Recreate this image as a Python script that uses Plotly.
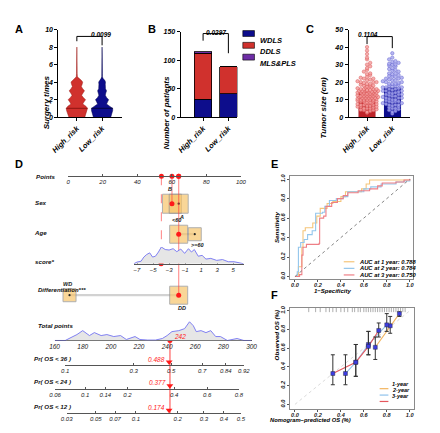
import math
import plotly.graph_objects as go

W, H = 440, 433
FONT = "Liberation Sans, Arial, Helvetica, sans-serif"

# ======================= DATA =======================
groups = ["High_risk", "Low_risk"]

surg_y = [0, 0.25, 0.5, 0.75, 1.0, 1.25, 1.5, 1.75, 2.0, 2.25, 2.5, 2.75, 3.0, 3.25,
          3.5, 3.75, 4.0, 4.2, 4.4, 4.6, 5.0, 6.0, 7.0, 8.0]
surg_dens_high = [0.75, 0.82, 0.9, 0.97, 1.0, 0.85, 0.55, 0.68, 0.82, 0.6, 0.45, 0.58,
                  0.72, 0.55, 0.42, 0.5, 0.55, 0.42, 0.2, 0.05, 0.03, 0.03, 0.03, 0.0]
surg_dens_low = [0.82, 0.9, 0.96, 1.0, 1.0, 0.72, 0.42, 0.52, 0.62, 0.42, 0.3, 0.35,
                 0.42, 0.32, 0.28, 0.3, 0.32, 0.25, 0.1, 0.03, 0.03, 0.03, 0.0, 0.0]
surg_median = [1.0, 1.0]
p_surg = "0.0099"

subtypes = ["WDLS", "DDLS", "MLS&PLS"]
wdls_counts = [31, 41]
ddls_counts = [81, 47]
mlspls_counts = [3, 0]
p_subtype = "0.0297"

tumor_high = [3.5, 4, 4.2, 4.5, 5, 5, 5.5, 6, 6, 6.5, 7, 7, 7.5, 8, 8,
              8.5, 9, 9, 9.5, 10, 10, 10, 10.5, 11, 11, 11, 11.5, 12, 12, 12,
              12.5, 13, 13, 13, 13.5, 14, 14, 14, 14.5, 15, 15, 15, 15, 15.5, 16, 16, 16,
              16.5, 17, 17, 17.5, 18, 18, 18, 18.5, 19, 19, 19.5, 20, 20, 20,
              20.5, 21, 21.5, 22, 22, 22.5, 23, 24, 24.5, 25,
              26, 27, 28, 29, 30, 31, 33, 34, 36, 38, 40,
              2.5, 3, 4, 5, 6, 6.5, 7, 7.5, 8, 8.5, 9, 9, 9.5, 10, 10, 10.5, 11, 11,
              11.5, 12, 12, 12.5, 13, 13, 13.5, 14, 14, 14.5, 15, 15, 15.5, 16, 17]
tumor_low = [2, 3, 3.5, 4, 4.5, 5, 5.5, 6,
             6.5, 7, 7, 7.5, 8, 8, 8.5, 9, 9, 9.5, 10, 10,
             10.5, 11, 11, 11.5, 12, 12, 12.5, 13, 13, 13.5, 14, 14,
             14.5, 15, 15, 15.5, 16, 16, 16.5, 17, 17, 17.5, 18, 18,
             18.5, 19, 19, 19.5, 20, 20, 20.5, 21, 21, 21.5, 22, 22,
             22.5, 23, 23, 23.5, 24, 24.5, 25, 25, 26,
             26.5, 27, 27.5, 28, 29, 29.5, 30, 30,
             30.5, 31, 31.5, 32, 33, 34, 36.5,
             5, 7, 9, 11, 13, 15, 17, 19]
p_tumor = "0.1104"

row_names = ["Points", "Sex", "Age", "score*", "Differentiation***", "Total points",
             "Pr( OS < 36 )", "Pr( OS < 24 )", "Pr( OS < 12 )"]
points_ticks = [0, 20, 40, 60, 80, 100]
sex_levels = ["B", "A"]
sex_points = [60.1, 64.0]
age_levels = ["<60", ">=60"]
age_points = [64.0, 73.3]
diff_levels = ["WD", "DD"]
diff_points = [0.8, 64.0]
score_ticks = [-7, -5, -3, -1, 1, 3, 5]
score_grid = [-7.4, -7.0, -6.5, -6.15, -5.8, -5.42, -5.06, -4.7, -4.33, -3.97, -3.48, -3.0,
              -2.5, -2.03, -1.55, -1.06, -0.58, -0.21, 0.15, 0.64, 1.12, 1.6, 2.21, 2.94,
              3.67, 4.39, 5.12, 5.85, 6.3]
score_density = [0, 0.1, 0.15, 0.4, 0.55, 0.65, 0.4, 0.45, 0.7, 1.0, 0.85, 0.82,
                 0.9, 0.72, 0.88, 0.62, 0.9, 0.7, 0.85, 0.45, 0.5, 0.28, 0.32, 0.2,
                 0.25, 0.12, 0.12, 0.05, 0]
total_ticks = [160, 180, 200, 220, 240, 260, 280, 300]
total_grid = [160, 167.6, 171.7, 175.9, 180.0, 184.8, 188.3, 193.1, 197.2, 202.1, 206.9,
              211.0, 217.2, 220.7, 226.2, 231.7, 236.6, 240.0, 243.4, 248.3, 252.4, 255.9,
              258.6, 260.7, 264.1, 267.6, 271.0, 274.5, 277.9, 282.8, 289.7, 294.5, 300]
total_density = [0, 0, 0.15, 0.3, 0.5, 0.25, 0.4, 0.25, 0.3, 0.2, 0.25,
                 0.05, 0.2, 0.05, 0.02, 0.02, 0.1, 0.25, 0.45, 0.5, 0.6, 0.95,
                 0.75, 0.45, 0.5, 0.4, 0.5, 0.2, 0.2, 0, 0.1, 0, 0]
pr36_ticks = [0.1, 0.3, 0.5, 0.7, 0.84, 0.92]
pr24_ticks = [0.06, 0.1, 0.14, 0.2, 0.4, 0.6, 0.8]
pr12_ticks = [0.03, 0.05, 0.07, 0.1, 0.2, 0.3, 0.4, 0.5]
sel_score = -4.0
sel_levels = ["B", "<60", "DD"]
sel_points = [54.0, 60.1, 64.0, 64.0]
sel_total = 242
sel_pr = [0.488, 0.377, 0.174]

roc_labels = ["AUC at 1 year: 0.788", "AUC at 2 year: 0.784", "AUC at 3 year: 0.750"]
roc1_fpr = [0, 0.03, 0.06, 0.07, 0.09, 0.155, 0.19, 0.22, 0.28, 0.33, 0.40, 0.44, 0.58, 0.62, 0.65, 1.0]
roc1_tpr = [0, 0.10, 0.30, 0.47, 0.50, 0.55, 0.62, 0.70, 0.75, 0.77, 0.82, 0.87, 0.90, 0.95, 0.99, 1.0]
roc2_fpr = [0, 0.02, 0.03, 0.05, 0.08, 0.11, 0.15, 0.18, 0.24, 0.26, 0.30, 0.36, 0.42, 0.46, 0.60, 0.66, 0.75, 0.88, 0.95, 1.0]
roc2_tpr = [0, 0.05, 0.30, 0.35, 0.38, 0.43, 0.47, 0.65, 0.66, 0.72, 0.78, 0.80, 0.82, 0.87, 0.90, 0.92, 0.95, 0.97, 0.98, 1.0]
roc3_fpr = [0, 0.04, 0.06, 0.07, 0.10, 0.21, 0.215, 0.25, 0.27, 0.32, 0.37, 0.42, 0.46, 0.55, 0.65, 0.72, 0.76, 0.88, 0.95, 1.0]
roc3_tpr = [0, 0.02, 0.22, 0.30, 0.33, 0.34, 0.60, 0.62, 0.72, 0.76, 0.80, 0.83, 0.86, 0.88, 0.90, 0.93, 0.96, 0.97, 0.99, 1.0]

cal_labels = ["1-year", "2-year", "3-year"]
cal1_x = [0.70, 0.83, 0.91]
cal1_y = [0.61, 0.84, 0.97]
cal1_lo = [0.48, 0.76, 0.94]
cal1_hi = [0.72, 0.94, 0.99]
cal2_x = [0.44, 0.53, 0.64, 0.80]
cal2_y = [0.33, 0.45, 0.64, 0.85]
cal2_lo = [0.21, 0.30, 0.53, 0.78]
cal2_hi = [0.53, 0.64, 0.78, 0.97]
cal3_x = [0.33, 0.53, 0.64, 0.73]
cal3_y = [0.33, 0.45, 0.62, 0.79]
cal3_lo = [0.21, 0.30, 0.53, 0.72]
cal3_hi = [0.53, 0.64, 0.78, 0.87]
rug_pred = [0.12, 0.18, 0.22, 0.27, 0.30, 0.33, 0.36, 0.40, 0.43, 0.46, 0.50, 0.52, 0.55,
            0.57, 0.60, 0.62, 0.64, 0.66, 0.68, 0.70, 0.72, 0.74, 0.76, 0.78, 0.80, 0.82,
            0.84, 0.86, 0.88, 0.90, 0.92, 0.94, 0.96]

# ======================= HELPERS / STYLE =======================
def dx(a, b):
    return [a / W, b / W]

def dy(top, bottom):
    return [1 - bottom / H, 1 - top / H]

def cll(p):
    return math.log(-math.log(1 - p))

def bif(size, color="black"):
    return dict(family=FONT, size=size, color=color, weight="bold", style="italic")

def itf(size, color="#222"):
    return dict(family=FONT, size=size, color=color, style="italic")

RED, RED_D = "#D0312D", "#9A1A17"
NAVY, NAVY_D = "#0D0D8C", "#05054F"
PURPLE = "#6E2DA6"
BOX_FILL, BOX_LINE = "#F7C56C", "#8E8E8E"
DENS_LINE, DENS_FILL = "#7474F2", "#E6E6E6"
HL = "rgba(255,60,60,0.55)"
ROC_COL = ["#F5C57A", "#93C6EC", "#EE7F86"]
CAL_COL = ["#F2B45E", "#8FC2EC", "#E5575D"]

fig = go.Figure()
shapes, ann = [], []

def gp_axis(**kw):
    d = dict(showline=True, linecolor="black", linewidth=1.2, ticks="outside", ticklen=3,
             tickwidth=1.2, tickcolor="black", showgrid=False, zeroline=False,
             tickfont=bif(7), fixedrange=True)
    d.update(kw)
    return d

def paper_text(px, py, text, font, **kw):
    d = dict(x=px / W, y=1 - py / H, xref="paper", yref="paper", text=text,
             showarrow=False, font=font)
    d.update(kw)
    ann.append(d)

# ======================= A =======================
mw = 0.42
for i, dens, fc, lc in [(0, surg_dens_high, RED, RED_D), (1, surg_dens_low, NAVY, NAVY_D)]:
    xs = [i + d * mw for d in dens] + [i - d * mw for d in reversed(dens)]
    ys = surg_y + surg_y[::-1]
    fig.add_trace(go.Scatter(x=xs, y=ys, fill="toself", fillcolor=fc, mode="lines",
                             line=dict(color=lc, width=0.5), xaxis="x", yaxis="y",
                             hoverinfo="skip"))
    m = surg_median[i]
    dm = dens[surg_y.index(m)] * mw
    fig.add_trace(go.Scatter(x=[i - dm, i + dm], y=[m, m], mode="lines",
                             line=dict(color=lc, width=1.2), xaxis="x", yaxis="y",
                             hoverinfo="skip"))
shapes.append(dict(type="path", xref="x", yref="y", path="M0,8.67 L0,9.22 L1,9.22 L1,8.2",
                   line=dict(color="black", width=1)))
paper_text(85, 25.5, p_surg, bif(6.5))
paper_text(34, 70, "Surgery times", bif(8), textangle=-90)

# ======================= B =======================
for name, vals, col in [("WDLS", wdls_counts, NAVY), ("DDLS", ddls_counts, RED),
                        ("MLS&PLS", mlspls_counts, PURPLE)]:
    fig.add_trace(go.Bar(x=[0, 1], y=vals, width=0.69, name=name,
                         marker=dict(color=col, line=dict(color="black", width=0.8)),
                         xaxis="x2", yaxis="y2", hoverinfo="skip"))
shapes.append(dict(type="path", xref="x2", yref="y2", path="M0,134 L0,146.5 L1,146.5 L1,112",
                   line=dict(color="black", width=1)))
paper_text(215, 23.5, p_subtype, bif(6.5))
paper_text(164, 72, "Number of patients", bif(8), textangle=-90)
for k, (name, col) in enumerate(zip(subtypes, [NAVY, RED, PURPLE])):
    yc = 30 + 12 * k
    shapes.append(dict(type="rect", xref="paper", yref="paper", x0=243 / W, x1=255 / W,
                       y0=1 - (yc + 3) / H, y1=1 - (yc - 3) / H, fillcolor=col,
                       line=dict(color="black", width=0.6)))
    paper_text(259, yc, name, bif(7.5), xanchor="left")

# ======================= C =======================
def swarm(vals, center, step, binsize):
    slots = [0, 1, -1, 2, -2, 3, -3]
    cnt = {}
    xs = []
    for v in vals:
        k = int(round(v / binsize))
        n = cnt.get(k, 0)
        cnt[k] = n + 1
        off = slots[n % 7] * step + (0.5 * step if (n // 7) % 2 else 0)
        xs.append(center + off)
    return xs

means = [sum(tumor_high) / len(tumor_high), sum(tumor_low) / len(tumor_low)]
fig.add_trace(go.Bar(x=[0, 1], y=means, width=0.69, marker=dict(color=["#BE2429", NAVY]),
                     xaxis="x3", yaxis="y3", hoverinfo="skip"))
for i, vals, fc, lc in [(0, sorted(tumor_high), "rgba(244,160,160,0.85)", "rgba(214,80,80,0.9)"),
                        (1, sorted(tumor_low), "rgba(170,170,238,0.85)", "rgba(90,90,205,0.9)")]:
    fig.add_trace(go.Scatter(x=swarm(vals, i, 0.125, 1.8), y=vals, mode="markers",
                             marker=dict(size=3.4, color=fc, line=dict(color=lc, width=0.5)),
                             xaxis="x3", yaxis="y3", hoverinfo="skip", cliponaxis=False))
shapes.append(dict(type="path", xref="x3", yref="y3", path="M0,41.7 L0,46 L1,46 L1,39.4",
                   line=dict(color="black", width=1)))
paper_text(384, 25.5, p_tumor, bif(6.5))
paper_text(333, 72, "Tumor size (cm)", bif(8), textangle=-90)

# ======================= D (nomogram) =======================
ROW = dict(points=175, sex=203, age=234, score=264, diff=296, total=342,
           pr36=367, pr24=391, pr12=416)
box_px = dict(sex=[19, 19], age=[18, 13], diff=[13, 18])

def nomo_axis(dom, rng, py, tickvals, ticktext=None, size=6):
    d = dict(domain=dom, range=rng, anchor="free", position=1 - py / H, showline=True,
             linecolor="#555", linewidth=0.8, ticks="inside", ticklen=2, tickwidth=0.8,
             tickcolor="#555", showgrid=False, zeroline=False, tickvals=tickvals,
             tickfont=itf(size), fixedrange=True)
    if ticktext is not None:
        d["ticktext"] = ticktext
    return d

fig.add_trace(go.Scatter(x=score_grid, y=score_density, mode="lines", fill="tozeroy",
                         fillcolor=DENS_FILL, line=dict(color=DENS_LINE, width=0.9),
                         xaxis="x5", yaxis="y5", hoverinfo="skip"))
fig.add_trace(go.Scatter(x=total_grid, y=total_density, mode="lines", fill="tozeroy",
                         fillcolor=DENS_FILL, line=dict(color=DENS_LINE, width=0.9),
                         xaxis="x6", yaxis="y6", hoverinfo="skip"))

def level_row(levels, pts, sizes, row):
    fig.add_trace(go.Scatter(x=[min(pts), max(pts)], y=[row, row], mode="lines",
                             line=dict(color="#D2D2D2", width=2.2), xaxis="x4", yaxis="y4",
                             hoverinfo="skip"))
    fig.add_trace(go.Scatter(x=pts, y=[row] * len(pts), mode="markers",
                             marker=dict(symbol="square", size=sizes, color=BOX_FILL,
                                         line=dict(color=BOX_LINE, width=1)),
                             xaxis="x4", yaxis="y4", cliponaxis=False, hoverinfo="skip"))
    for j, (lv, p, s) in enumerate(zip(levels, pts, sizes)):
        above = (j % 2 == 0)
        ann.append(dict(x=p, y=row - s / 2 - 5 if above else row + s / 2 + 4,
                        xref="x4", yref="y4", text=lv, showarrow=False, font=bif(5.5, "#222"),
                        xshift=-2 if above else 3))
        if lv not in sel_levels:
            fig.add_trace(go.Scatter(x=[p], y=[row], mode="markers",
                                     marker=dict(size=2.2, color="#222"), xaxis="x4",
                                     yaxis="y4", cliponaxis=False, hoverinfo="skip"))

level_row(sex_levels, sex_points, box_px["sex"], ROW["sex"])
level_row(age_levels, age_points, box_px["age"], ROW["age"])
level_row(diff_levels, diff_points, box_px["diff"], ROW["diff"])

fig.add_trace(go.Scatter(x=[sel_points[0]] * 2, y=[ROW["points"], ROW["score"]], mode="lines",
                         line=dict(color=HL, width=1.2, dash="dash"), xaxis="x4", yaxis="y4",
                         hoverinfo="skip"))
fig.add_trace(go.Scatter(x=[sel_points[1]] * 2, y=[ROW["points"], ROW["sex"]], mode="lines",
                         line=dict(color=HL, width=1.2), xaxis="x4", yaxis="y4", hoverinfo="skip"))
fig.add_trace(go.Scatter(x=[sel_points[2]] * 2, y=[ROW["points"], ROW["diff"]], mode="lines",
                         line=dict(color=HL, width=1.2), xaxis="x4", yaxis="y4", hoverinfo="skip"))
sel_rows = [ROW["sex"], ROW["age"], ROW["diff"]]
fig.add_trace(go.Scatter(x=sel_points[1:], y=sel_rows, mode="markers",
                         marker=dict(size=5, color="#FF1A1A"), xaxis="x4", yaxis="y4",
                         cliponaxis=False, hoverinfo="skip"))
fig.add_trace(go.Scatter(x=sel_points, y=[ROW["points"]] * 4, mode="markers",
                         marker=dict(size=5, color="#FF1A1A"), xaxis="x4", yaxis="y4",
                         cliponaxis=False, hoverinfo="skip"))
fig.add_trace(go.Scatter(x=[sel_score], y=[ROW["score"]], mode="markers",
                         marker=dict(size=5, color="#FF1A1A"), xaxis="x5", yaxis="y4",
                         cliponaxis=False, hoverinfo="skip"))
fig.add_trace(go.Scatter(x=[sel_total] * 2, y=[ROW["total"], ROW["pr12"]], mode="lines",
                         line=dict(color=HL, width=1.8), xaxis="x6", yaxis="y4", hoverinfo="skip"))
fig.add_trace(go.Scatter(x=[sel_total], y=[ROW["total"]], mode="markers",
                         marker=dict(size=5, color="#FF1A1A"), xaxis="x6", yaxis="y4",
                         cliponaxis=False, hoverinfo="skip"))
ann.append(dict(x=sel_total, y=ROW["total"] - 4, xref="x6", yref="y4", text=str(sel_total),
                xanchor="left", xshift=2, showarrow=False, font=itf(6.5, "#FF1A1A")))
for ax, key, p in [("x7", "pr36", sel_pr[0]), ("x8", "pr24", sel_pr[1]), ("x9", "pr12", sel_pr[2])]:
    fig.add_trace(go.Scatter(x=[cll(p)], y=[ROW[key] - 3], mode="markers",
                             marker=dict(symbol="triangle-down", size=6, color="#FF1A1A"),
                             xaxis=ax, yaxis="y4", cliponaxis=False, hoverinfo="skip"))
    ann.append(dict(x=cll(p), y=ROW[key] - 6, xref=ax, yref="y4", text=f"{p:.3f}",
                    xanchor="right", xshift=-2, showarrow=False, font=itf(6.5, "#FF1A1A")))

row_lbl = [(28, 175), (27, 202), (26, 232), (27, 262), (30, 296), (30, 332), (26, 366),
           (26, 389), (26, 415)]
for (px, py), name in zip(row_lbl, row_names):
    paper_text(px, py, name, bif(6.0 if name.startswith("Diff") else 6.2, "#111"))

# ======================= E (ROC) =======================
for fpr, tpr, col in [(roc1_fpr, roc1_tpr, ROC_COL[0]), (roc2_fpr, roc2_tpr, ROC_COL[1]),
                      (roc3_fpr, roc3_tpr, ROC_COL[2])]:
    fig.add_trace(go.Scatter(x=fpr, y=tpr, mode="lines", line=dict(color=col, width=1.1, shape="hv"),
                             xaxis="x10", yaxis="y10", hoverinfo="skip"))
fig.add_trace(go.Scatter(x=[0, 1], y=[0, 1], mode="lines", line=dict(color="#666", width=0.8, dash="dot"),
                         xaxis="x10", yaxis="y10", hoverinfo="skip"))
for k, (lab, col) in enumerate(zip(roc_labels, ROC_COL)):
    yc = 262 + 6.7 * k
    shapes.append(dict(type="line", xref="paper", yref="paper", x0=347 / W, x1=358 / W,
                       y0=1 - yc / H, y1=1 - yc / H, line=dict(color=col, width=1.2)))
    paper_text(361, yc, lab, bif(5.8), xanchor="left")
paper_text(358, 297, "1−Specificity", bif(6))
paper_text(278, 227, "Sensitivity", bif(6.2), textangle=-90)

# ======================= F (calibration) =======================
fig.add_trace(go.Scatter(x=[0, 1], y=[0, 1], mode="lines", line=dict(color="#D0D0D0", width=0.8, dash="dot"),
                         xaxis="x11", yaxis="y11", hoverinfo="skip"))
cal_sets = [(cal1_x, cal1_y, cal1_lo, cal1_hi), (cal2_x, cal2_y, cal2_lo, cal2_hi),
            (cal3_x, cal3_y, cal3_lo, cal3_hi)]
for (cx, cy, lo, hi), col in zip(cal_sets, CAL_COL):
    fig.add_trace(go.Scatter(x=cx, y=cy, mode="lines", line=dict(color=col, width=1.1),
                             xaxis="x11", yaxis="y11", hoverinfo="skip"))
for (cx, cy, lo, hi), col in zip(cal_sets, CAL_COL):
    fig.add_trace(go.Scatter(x=cx, y=cy, mode="markers",
                             error_y=dict(type="data", symmetric=False,
                                          array=[h - v for h, v in zip(hi, cy)],
                                          arrayminus=[v - l for l, v in zip(lo, cy)],
                                          color="#333", thickness=1, width=2),
                             marker=dict(symbol="square", size=4, color="#3D3DE0",
                                         line=dict(color="#222", width=0.4)),
                             xaxis="x11", yaxis="y11", cliponaxis=False, hoverinfo="skip"))
fig.add_trace(go.Scatter(x=rug_pred, y=[1.012] * len(rug_pred), mode="markers",
                         marker=dict(symbol="line-ns-open", size=3.5, color="#777",
                                     line=dict(color="#777", width=0.6)),
                         xaxis="x11", yaxis="y11", cliponaxis=False, hoverinfo="skip"))
for k, (lab, col) in enumerate(zip(cal_labels, CAL_COL)):
    yc = 391 + 6.5 * k
    shapes.append(dict(type="line", xref="paper", yref="paper", x0=384 / W, x1=393 / W,
                       y0=1 - yc / H, y1=1 - yc / H, line=dict(color=col, width=1.2)))
    paper_text(395, yc, lab, bif(5.5), xanchor="left")
paper_text(357, 427.5, "Nomogram−predicted OS (%)", bif(5.8))
paper_text(278, 364, "Observed OS (%)", bif(6.2), textangle=-90)

for L, px, py in [("A", 6, 17), ("B", 143, 17), ("C", 318, 17), ("D", 6, 163),
                  ("E", 276, 163), ("F", 276, 304)]:
    paper_text(px, py, L, dict(family=FONT, size=11, color="black", weight="bold"))

def r_axis(dom, rng, anchor, angle=0, standoff=0):
    tv = [0, 0.2, 0.4, 0.6, 0.8, 1.0]
    return dict(domain=dom, range=rng, anchor=anchor, showline=True, mirror=True,
                linecolor="#8A8A8A", linewidth=1, ticks="outside", ticklen=2, tickcolor="#555",
                tickwidth=0.8, showgrid=False, zeroline=False, tickvals=tv,
                ticktext=[f"{v:.1f}" for v in tv], tickangle=angle, tickfont=bif(5.6, "#222"),
                ticklabelstandoff=standoff, fixedrange=True)

layout = dict(
    width=W, height=H, margin=dict(l=0, r=0, t=0, b=0), showlegend=False,
    paper_bgcolor="white", plot_bgcolor="rgba(0,0,0,0)", barmode="stack",
    font=dict(family=FONT),
    xaxis=gp_axis(domain=dx(53, 118), range=[-0.73, 1.77], tickvals=[0, 1], ticktext=groups,
                  tickangle=-45, anchor="y", tickfont=bif(7.5)),
    yaxis=gp_axis(domain=dy(26, 115), range=[0, 10], tickvals=[0, 2, 4, 6, 8, 10], anchor="x"),
    xaxis2=gp_axis(domain=dx(179, 237.5), range=[-0.885, 1.36], tickvals=[0, 1], ticktext=groups,
                   tickangle=-45, anchor="y2", tickfont=bif(7.5)),
    yaxis2=gp_axis(domain=dy(28, 115), range=[0, 150], tickvals=[0, 50, 100, 150], anchor="x2"),
    xaxis3=gp_axis(domain=dx(352, 415), range=[-0.73, 1.69], tickvals=[0, 1], ticktext=groups,
                   tickangle=-45, anchor="y3", tickfont=bif(7.5)),
    yaxis3=gp_axis(domain=dy(26, 115), range=[0, 50], tickvals=[0, 10, 20, 30, 40, 50], anchor="x3"),
    xaxis4=nomo_axis(dx(63, 241), [0, 100], ROW["points"], points_ticks),
    yaxis4=dict(domain=[0, 1], range=[H, 0], visible=False, anchor="free", position=0, fixedrange=True),
    xaxis5=nomo_axis(dx(130.7, 243.8), [-7.4, 6.3], ROW["score"], score_ticks),
    yaxis5=dict(domain=dy(ROW["score"] - 17, ROW["score"]), range=[0, 1], visible=False,
                anchor="free", position=0, fixedrange=True),
    xaxis6=nomo_axis(dx(49, 252), [160, 300], ROW["total"], total_ticks, size=6.5),
    yaxis6=dict(domain=dy(ROW["total"] - 20, ROW["total"]), range=[0, 1], visible=False,
                anchor="free", position=0, fixedrange=True),
    xaxis7=nomo_axis(dx(60, 244), [cll(pr36_ticks[0]), cll(pr36_ticks[-1])], ROW["pr36"],
                     [cll(p) for p in pr36_ticks], [str(p) for p in pr36_ticks]),
    xaxis8=nomo_axis(dx(49.5, 239), [cll(pr24_ticks[0]), cll(pr24_ticks[-1])], ROW["pr24"],
                     [cll(p) for p in pr24_ticks], [str(p) for p in pr24_ticks]),
    xaxis9=nomo_axis(dx(61.5, 241), [cll(pr12_ticks[0]), cll(pr12_ticks[-1])], ROW["pr12"],
                     [cll(p) for p in pr12_ticks], [str(p) for p in pr12_ticks]),
    xaxis10=r_axis(dx(292, 418), [-0.04, 1.025], "y10", standoff=-2),
    yaxis10=r_axis(dy(175, 280), [-0.03, 1.03], "x10", angle=-90),
    xaxis11=r_axis(dx(292, 419), [-0.04, 1.034], "y11", standoff=-2),
    yaxis11=r_axis(dy(309, 412), [-0.053, 1.03], "x11", angle=-90),
    shapes=shapes, annotations=ann,
)
fig.update_layout(**layout)
fig.write_html("out.html", config={"displayModeBar": False},
               post_script="document.body.style.margin='0';")
